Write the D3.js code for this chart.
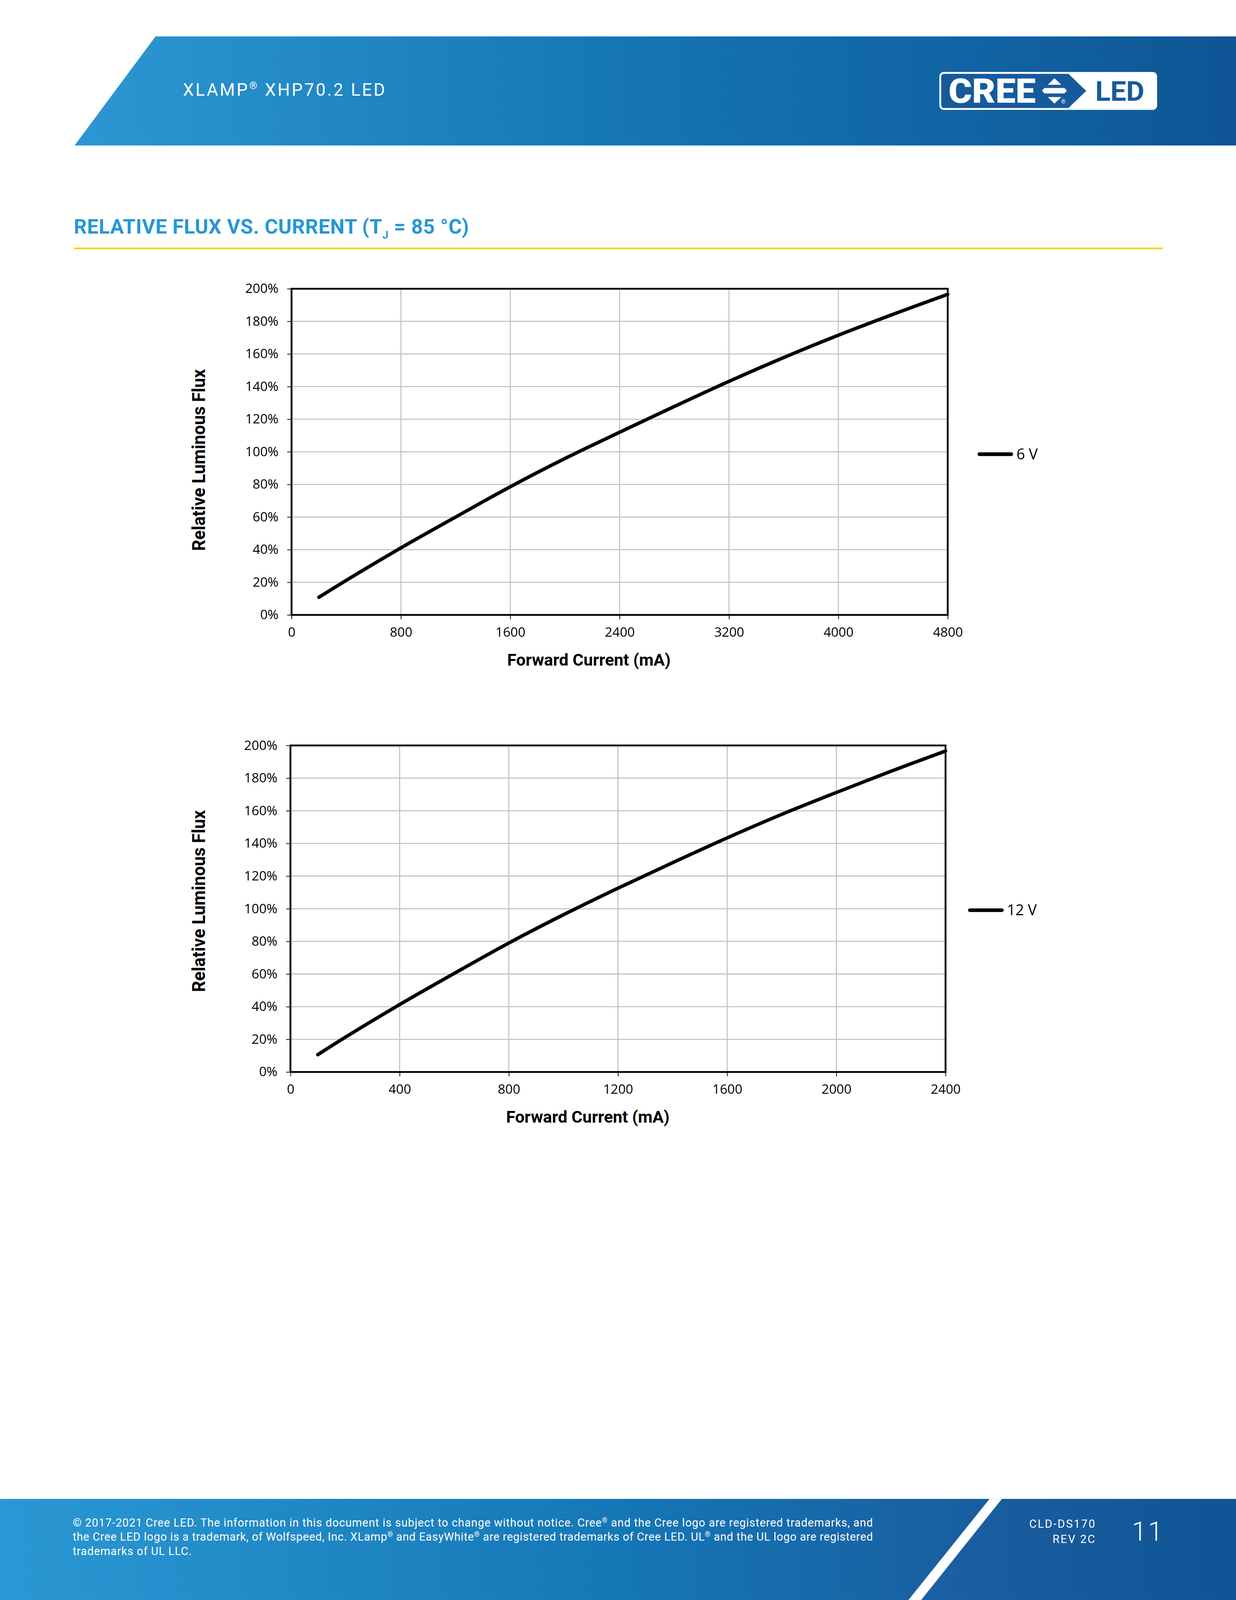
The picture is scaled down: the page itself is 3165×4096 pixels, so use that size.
<!DOCTYPE html>
<html>
<head>
<meta charset="utf-8">
<script src="https://cdn.jsdelivr.net/npm/d3@7"></script>
<style>
  body { margin: 0; background: #fff; }
  svg { display: block; }
</style>
</head>
<body>
<script>
// values
var yTicks = [0, 20, 40, 60, 80, 100, 120, 140, 160, 180, 200];
var xTicks6V = [0, 800, 1600, 2400, 3200, 4000, 4800];
var xTicks12V = [0, 400, 800, 1200, 1600, 2000, 2400];

var current6V = [200, 400, 800, 1200, 1600, 2000, 2400, 2800, 3200, 3600, 4000, 4400, 4800];
var flux6V = [10.8, 21.2, 41.1, 60.0, 78.6, 95.9, 112.0, 127.8, 143.2, 157.8, 171.5, 184.3, 196.6];

var current12V = [100, 200, 400, 600, 800, 1000, 1200, 1400, 1600, 1800, 2000, 2200, 2400];
var flux12V = [10.6, 21.2, 41.3, 60.4, 79.0, 96.3, 112.6, 128.2, 143.4, 157.8, 171.2, 184.2, 196.6];

var W = 3400, H = 4400;
var svg = d3.select('body').append('svg')
  .attr('width', 3165)
  .attr('height', 4096)
  .attr('viewBox', '0 0 ' + W + ' ' + H);

var defs = svg.append('defs');
var hg = defs.append('linearGradient').attr('id', 'hdr')
  .attr('gradientUnits', 'userSpaceOnUse')
  .attr('x1', 200).attr('x2', 3400).attr('y1', 0).attr('y2', 0);
hg.append('stop').attr('offset', 0).attr('stop-color', '#2c97d3');
hg.append('stop').attr('offset', 0.5).attr('stop-color', '#1474b4');
hg.append('stop').attr('offset', 1).attr('stop-color', '#0f5595');

var fg = defs.append('linearGradient').attr('id', 'ftr')
  .attr('gradientUnits', 'userSpaceOnUse')
  .attr('x1', 0).attr('x2', 3400).attr('y1', 0).attr('y2', 0);
fg.append('stop').attr('offset', 0).attr('stop-color', '#2a98d4');
fg.append('stop').attr('offset', 0.5).attr('stop-color', '#1577b6');
fg.append('stop').attr('offset', 0.8).attr('stop-color', '#195d9f');
fg.append('stop').attr('offset', 1).attr('stop-color', '#0f5595');

// header band
svg.append('path')
  .attr('d', 'M428,100 L3400,100 L3400,400 L205,400 Z')
  .attr('fill', 'url(#hdr)');

var hdrText = svg.append('text')
  .attr('x', 503).attr('y', 263)
  .attr('textLength', 556).attr('lengthAdjust', 'spacing')
  .style('font-family', 'Roboto').style('font-size', '48px')
  .attr('fill', '#fff');
hdrText.append('tspan').text('XLAMP');
hdrText.append('tspan').text('®').style('font-size', '28px').attr('dy', -18);
hdrText.append('tspan').text(' XHP70.2 LED').attr('dy', 18);

// logo
var logo = svg.append('g');
logo.append('rect')
  .attr('x', 2584).attr('y', 198).attr('width', 599).attr('height', 104)
  .attr('rx', 12).attr('fill', '#fff');
logo.append('path')
  .attr('d', 'M2598,203 L2939,203 L2988,250 L2939,297 L2598,297 Q2589,297 2589,288 L2589,212 Q2589,203 2598,203 Z')
  .attr('fill', '#165a9c');
logo.append('text').text('CREE')
  .attr('x', 2609).attr('y', 283)
  .attr('textLength', 240).attr('lengthAdjust', 'spacingAndGlyphs')
  .style('font-family', 'Roboto').style('font-weight', 900).style('font-size', '94px')
  .attr('fill', '#fff');
logo.append('path').attr('d', 'M2882.5,233 L2900.6,215 L2919.5,233 Z').attr('fill', '#fff');
logo.append('path').attr('d', 'M2866,249.5 L2873,242 L2928,242 L2935,249.5 L2928,257 L2873,257 Z').attr('fill', '#fff');
logo.append('path').attr('d', 'M2882.5,267 L2919.5,267 L2900.6,285 Z').attr('fill', '#fff');
logo.append('text').text('®')
  .attr('x', 2925).attr('y', 285).attr('text-anchor', 'middle')
  .style('font-family', 'Roboto').style('font-size', '15px').attr('fill', '#fff');
logo.append('text').text('LED')
  .attr('x', 3013).attr('y', 277)
  .attr('textLength', 135).attr('lengthAdjust', 'spacingAndGlyphs')
  .style('font-family', 'Roboto').style('font-weight', 700).style('font-size', '76px')
  .attr('fill', '#165a9c');

// section title
var title = svg.append('text')
  .attr('x', 203).attr('y', 642)
  .attr('textLength', 1087).attr('lengthAdjust', 'spacing')
  .style('font-family', 'Roboto').style('font-weight', 700).style('font-size', '56px')
  .attr('fill', '#2597d4');
title.append('tspan').text('RELATIVE FLUX VS. CURRENT (T');
title.append('tspan').text('J').style('font-size', '30px').attr('dy', 14);
title.append('tspan').text(' = 85 °C)').attr('dy', -14);

svg.append('line')
  .attr('x1', 203).attr('x2', 3198).attr('y1', 683).attr('y2', 683)
  .attr('stroke', '#f6d016').attr('stroke-width', 4.5);

var tickFont = 'Open Sans';

function drawChart(cfg) {
  var g = svg.append('g');
  var x = d3.scaleLinear().domain([0, cfg.xMax]).range([cfg.left, cfg.right]);
  var y = d3.scaleLinear().domain([0, 200]).range([cfg.bottom, cfg.top]);

  // gridlines
  g.selectAll('.hg').data(yTicks.slice(1, -1)).enter().append('line')
    .attr('x1', cfg.left).attr('x2', cfg.right)
    .attr('y1', function(d){ return y(d); }).attr('y2', function(d){ return y(d); })
    .attr('stroke', '#c3c3c3').attr('stroke-width', 3);
  g.selectAll('.vg').data(cfg.xTicks.slice(1, -1)).enter().append('line')
    .attr('y1', cfg.top).attr('y2', cfg.bottom)
    .attr('x1', function(d){ return x(d); }).attr('x2', function(d){ return x(d); })
    .attr('stroke', '#c3c3c3').attr('stroke-width', 3);

  // axes
  var yAxis = d3.axisLeft(y).tickValues(yTicks)
    .tickFormat(function(d){ return d + '%'; })
    .tickSize(12).tickPadding(24);
  var xAxis = d3.axisBottom(x).tickValues(cfg.xTicks)
    .tickFormat(function(d){ return d; })
    .tickSize(12).tickPadding(22);

  var ya = g.append('g').attr('transform', 'translate(' + cfg.left + ',0)').call(yAxis);
  var xa = g.append('g').attr('transform', 'translate(0,' + cfg.bottom + ')').call(xAxis);
  [ya, xa].forEach(function(a){
    a.select('.domain').remove();
    a.selectAll('.tick line').attr('stroke', '#000').attr('stroke-width', 2);
    a.selectAll('.tick text')
      .style('font-family', tickFont).style('font-size', '36px').attr('fill', '#000');
  });
  xa.selectAll('.tick text').attr('dy', '0.71em');

  // frame
  g.append('rect')
    .attr('x', cfg.left).attr('y', cfg.top)
    .attr('width', cfg.right - cfg.left).attr('height', cfg.bottom - cfg.top)
    .attr('fill', 'none').attr('stroke', '#000').attr('stroke-width', 5);

  // curve
  var pts = cfg.current.map(function(c, i){ return [c, cfg.flux[i]]; });
  var line = d3.line()
    .x(function(d){ return x(d[0]); })
    .y(function(d){ return y(d[1]); })
    .curve(d3.curveCatmullRom.alpha(0.5));
  g.append('path').datum(pts)
    .attr('d', line)
    .attr('fill', 'none').attr('stroke', '#000')
    .attr('stroke-width', 9.5).attr('stroke-linecap', 'round')
    .attr('stroke-linejoin', 'round');

  // axis titles
  g.append('text').text('Relative Luminous Flux')
    .attr('transform', 'translate(564,' + cfg.yTitleY + ') rotate(-90)')
    .attr('text-anchor', 'middle')
    .attr('textLength', 500).attr('lengthAdjust', 'spacingAndGlyphs')
    .style('font-family', 'Roboto').style('font-weight', 700).style('font-size', '50px')
    .attr('fill', '#000');
  g.append('text').text('Forward Current (mA)')
    .attr('x', cfg.xTitleX).attr('y', cfg.bottom + 139)
    .attr('text-anchor', 'middle')
    .style('font-family', 'Roboto').style('font-weight', 700).style('font-size', '46px')
    .attr('fill', '#000');

  // legend
  g.append('line')
    .attr('x1', cfg.legX).attr('x2', cfg.legX + 88)
    .attr('y1', cfg.legY).attr('y2', cfg.legY)
    .attr('stroke', '#000').attr('stroke-width', 10).attr('stroke-linecap', 'round');
  g.append('text').text(cfg.name)
    .attr('x', cfg.legX + 102).attr('y', cfg.legY + 14)
    .style('font-family', tickFont).style('font-size', '41px').attr('fill', '#000');
}

drawChart({
  left: 802, right: 2607, top: 794, bottom: 1691,
  xMax: 4800, xTicks: xTicks6V,
  current: current6V, flux: flux6V,
  yTitleY: 1265, xTitleX: 1620,
  legX: 2694, legY: 1249, name: '6 V'
});

drawChart({
  left: 799, right: 2601, top: 2050, bottom: 2948,
  xMax: 2400, xTicks: xTicks12V,
  current: current12V, flux: flux12V,
  yTitleY: 2478, xTitleX: 1617,
  legX: 2668, legY: 2503, name: '12 V'
});

// footer band
svg.append('rect')
  .attr('x', 0).attr('y', 4122).attr('width', W).attr('height', H - 4122)
  .attr('fill', 'url(#ftr)');
svg.append('path')
  .attr('d', 'M2722,4122 L2756,4122 L2534,4400 L2499,4400 Z')
  .attr('fill', '#fff');

var footLines = [
  ['© 2017-2021 Cree LED. The information in this document is subject to change without notice. Cree', '®', ' and the Cree logo are registered trademarks, and'],
  ['the Cree LED logo is a trademark, of Wolfspeed, Inc. XLamp', '®', ' and EasyWhite', '®', ' are registered trademarks of Cree LED. UL', '®', ' and the UL logo are registered'],
  ['trademarks of UL LLC.']
];
var footLen = [2201, 2201, 327];
var footY = [4198, 4237, 4277];
footLines.forEach(function(parts, i){
  var t = svg.append('text')
    .attr('x', 200).attr('y', footY[i])
    .attr('textLength', footLen[i]).attr('lengthAdjust', 'spacing')
    .style('font-family', 'Roboto').style('font-size', '31px')
    .attr('fill', '#fff');
  parts.forEach(function(p){
    if (p === '®') {
      t.append('tspan').text(p).style('font-size', '19px').attr('dy', -11);
    } else {
      var s = t.append('tspan').text(p);
      if (t.selectAll('tspan').size() > 1) s.attr('dy', 11);
    }
  });
});

svg.append('text').text('CLD-DS170')
  .attr('x', 3015).attr('y', 4201).attr('text-anchor', 'end')
  .style('font-family', 'Roboto').style('font-size', '31px').style('letter-spacing', '3px')
  .attr('fill', '#fff');
svg.append('text').text('REV 2C')
  .attr('x', 3015).attr('y', 4243).attr('text-anchor', 'end')
  .style('font-family', 'Roboto').style('font-size', '31px').style('letter-spacing', '3px')
  .attr('fill', '#fff');
svg.append('text').text('11')
  .attr('x', 3158).attr('y', 4237).attr('text-anchor', 'middle')
  .style('font-family', 'Roboto').style('font-weight', 300).style('font-size', '73px')
  .style('letter-spacing', '4px')
  .attr('fill', '#fff');
</script>
</body>
</html>
